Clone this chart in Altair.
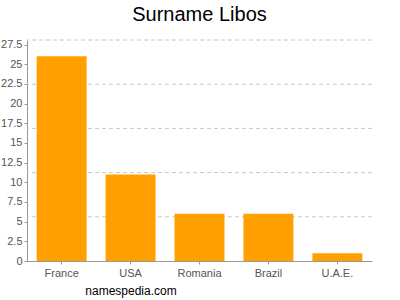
import altair as alt
import pandas as pd

countries = ["France", "USA", "Romania", "Brazil", "U.A.E."]
counts = [26, 11, 6, 6, 1]
tick_values = [0, 2.5, 5, 7.5, 10, 12.5, 15, 17.5, 20, 22.5, 25, 27.5]
y_max = 28.08
grid_values = [5.616, 11.232, 16.848, 22.464, 28.08]

df = pd.DataFrame({"country": countries, "count": counts})
grid_df = pd.DataFrame({"g": grid_values})

yscale = alt.Scale(domain=[0, y_max], nice=False, zero=True)
yaxis = alt.Axis(values=tick_values, grid=False, format=".1~f", labelColor="#555555",
                 labelFontSize=11, labelFont="Liberation Sans",
                 domainColor="#999999", tickColor="#999999",
                 tickSize=3, labelPadding=2)

grid = alt.Chart(grid_df).mark_rule(
    color="#c8c8c8", strokeDash=[4, 3], strokeWidth=1
).encode(y=alt.Y("g:Q", scale=yscale, axis=yaxis, title=None))

bars = alt.Chart(df).mark_bar(color="#ffa000").encode(
    x=alt.X("country:N", sort=countries, title=None,
            scale=alt.Scale(paddingInner=0.275, paddingOuter=0.14),
            axis=alt.Axis(labelAngle=0, labelColor="#555555", labelFontSize=11,
                          labelFont="Liberation Sans", domainColor="#999999",
                          tickColor="#999999", tickSize=3, labelPadding=3)),
    y=alt.Y("count:Q", scale=yscale, title=None, axis=yaxis),
)

site = alt.Chart(pd.DataFrame({"t": ["namespedia.com"]})).mark_text(
    fontSize=12, font="Liberation Sans", color="#000000"
).encode(text="t:N", x=alt.value(104), y=alt.value(251))

chart = alt.layer(grid, bars, site).properties(
    width=345, height=221,
    autosize=alt.AutoSizeParams(type="none"),
    padding={"left": 27, "top": 40, "right": 28, "bottom": 39},
    title=alt.TitleParams("Surname Libos", fontSize=20, font="Liberation Sans",
                          fontWeight="normal", color="#000000", anchor="middle",
                          offset=14),
).configure_view(stroke=None)

chart.save("out.html", embed_options={"renderer": "svg", "actions": False})
